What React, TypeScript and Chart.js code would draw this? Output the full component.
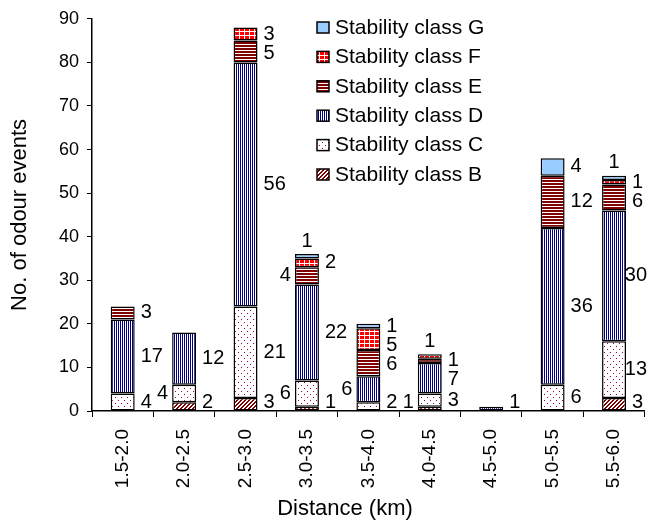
import React, { useEffect, useRef } from "react";
import { Chart, registerables } from "chart.js";

Chart.register(...registerables);

const FONT = '"Liberation Sans", Arial, Helvetica, sans-serif';

const categories = ["1.5-2.0", "2.0-2.5", "2.5-3.0", "3.0-3.5", "3.5-4.0", "4.0-4.5", "4.5-5.0", "5.0-5.5", "5.5-6.0"];
const classB = [0, 2, 3, 1, 0, 1, 0, 0, 3];
const classC = [4, 4, 21, 6, 2, 3, 0, 6, 13];
const classD = [17, 12, 56, 22, 6, 7, 1, 36, 30];
const classE = [3, 0, 5, 4, 6, 1, 0, 12, 6];
const classF = [0, 0, 3, 2, 5, 1, 0, 0, 1];
const classG = [0, 0, 0, 1, 1, 0, 0, 4, 1];
const seriesKeys = ["B", "C", "D", "E", "F", "G"];
const seriesNames = ["Stability class B", "Stability class C", "Stability class D", "Stability class E", "Stability class F", "Stability class G"];
const yTickValues = [0, 10, 20, 30, 40, 50, 60, 70, 80, 90];
const xTitle = "Distance (km)";
const yTitle = "No. of odour events";

// where a value label sits relative to its segment (default: right)
const labelSide: Record<string, string> = {
  "C:1": "left",
  "E:3": "left",
  "C:3": "left",
  "D:4": "left",
  "B:5": "left",
  "G:3": "top",
  "F:5": "top",
  "G:8": "top",
};

function tile(w: number, h: number, draw: (g: CanvasRenderingContext2D) => void) {
  const c = document.createElement("canvas");
  c.width = w;
  c.height = h;
  const g = c.getContext("2d")!;
  draw(g);
  return c;
}

function makeFills(ctx: CanvasRenderingContext2D): Record<string, any> {
  const red = "#800000";
  const B = tile(4, 4, (g) => {
    g.fillStyle = "#fff";
    g.fillRect(0, 0, 4, 4);
    g.fillStyle = red;
    for (let x = 0; x < 4; x++)
      for (let y = 0; y < 4; y++) if ((x + y) % 4 === 0 || (x + y) % 4 === 1) g.fillRect(x, y, 1, 1);
  });
  const C = tile(6, 6, (g) => {
    g.fillStyle = "#fff";
    g.fillRect(0, 0, 6, 6);
    g.fillStyle = "#99004d";
    g.fillRect(1, 1, 1, 1);
    g.fillRect(4, 4, 1, 1);
  });
  const D = tile(2, 1, (g) => {
    g.fillStyle = "#fff";
    g.fillRect(0, 0, 2, 1);
    g.fillStyle = "#000080";
    g.fillRect(0, 0, 1, 1);
  });
  const E = tile(1, 3, (g) => {
    g.fillStyle = red;
    g.fillRect(0, 0, 1, 3);
    g.fillStyle = "#fff";
    g.fillRect(0, 2, 1, 1);
  });
  const F = tile(5, 4, (g) => {
    g.fillStyle = "#ff0000";
    g.fillRect(0, 0, 5, 4);
    g.fillStyle = "#fff";
    g.fillRect(4, 0, 1, 4);
    g.fillRect(0, 3, 5, 1);
  });
  return {
    B: ctx.createPattern(B, "repeat"),
    C: ctx.createPattern(C, "repeat"),
    D: ctx.createPattern(D, "repeat"),
    E: ctx.createPattern(E, "repeat"),
    F: ctx.createPattern(F, "repeat"),
    G: "#99ccff",
  };
}

const valueLabels = {
  id: "valueLabels",
  afterDatasetsDraw(chart: any) {
    const ctx = chart.ctx as CanvasRenderingContext2D;
    const area = chart.chartArea;
    ctx.save();
    ctx.font = `20px ${FONT}`;
    ctx.fillStyle = "#000";
    ctx.textBaseline = "middle";
    const gap = 19;
    categories.forEach((_, i) => {
      const right: any[] = [];
      const left: any[] = [];
      chart.data.datasets.forEach((ds: any, di: number) => {
        const v = ds.data[i];
        if (!v) return;
        const el = chart.getDatasetMeta(di).data[i];
        if (!el) return;
        const p = el.getProps(["x", "y", "base", "width"], true);
        const top = Math.min(p.y, p.base);
        const bottom = Math.max(p.y, p.base);
        const side = labelSide[ds.key + ":" + i] || "right";
        const item = { text: String(v), y: (top + bottom) / 2, x: p.x, w: p.width, top };
        if (side === "top") {
          ctx.textAlign = "center";
          ctx.fillText(item.text, p.x, top - 13);
        } else if (side === "left") left.push(item);
        else right.push(item);
      });
      const place = (items: any[], isRight: boolean) => {
        items.sort((a, b) => a.y - b.y);
        for (let k = 1; k < items.length; k++) {
          if (items[k].y - items[k - 1].y < gap) items[k].y = items[k - 1].y + gap;
        }
        for (let k = items.length - 1; k >= 0; k--) {
          const lim = k === items.length - 1 ? area.bottom - 9 : items[k + 1].y - gap;
          if (items[k].y > lim) items[k].y = lim;
        }
        items.forEach((it) => {
          if (isRight) {
            const wText = ctx.measureText(it.text).width;
            let x = it.x + it.w / 2 + 6;
            if (x + wText > chart.width - 2) x = chart.width - 2 - wText;
            ctx.textAlign = "left";
            ctx.fillText(it.text, x, it.y);
          } else {
            ctx.textAlign = "right";
            ctx.fillText(it.text, it.x - it.w / 2 - 4, it.y);
          }
        });
      };
      place(right, true);
      place(left, false);
    });
    ctx.restore();
  },
};

const customLegend = {
  id: "customLegend",
  afterDraw(chart: any) {
    const ctx = chart.ctx as CanvasRenderingContext2D;
    ctx.save();
    ctx.font = `21px ${FONT}`;
    ctx.textBaseline = "middle";
    ctx.textAlign = "left";
    const dsList = chart.data.datasets.slice().reverse();
    dsList.forEach((ds: any, k: number) => {
      const cy = 27 + k * 29.4;
      ctx.fillStyle = ds.backgroundColor;
      ctx.fillRect(317, cy - 5, 12, 11);
      ctx.strokeStyle = "#000";
      ctx.lineWidth = 1.5;
      ctx.strokeRect(317, cy - 5, 12, 11);
      ctx.fillStyle = "#000";
      ctx.fillText(ds.label, 335, cy + 1);
    });
    ctx.restore();
  },
};

const xTitlePlugin = {
  id: "xTitlePlugin",
  afterDraw(chart: any) {
    const ctx = chart.ctx as CanvasRenderingContext2D;
    ctx.save();
    ctx.font = `22px ${FONT}`;
    ctx.fillStyle = "#000";
    ctx.textAlign = "center";
    ctx.textBaseline = "middle";
    ctx.fillText(xTitle, 345, 509);
    ctx.restore();
  },
};

export default function App() {
  const ref = useRef<HTMLCanvasElement | null>(null);
  useEffect(() => {
    const canvas = ref.current!;
    const ctx = canvas.getContext("2d")!;
    const fills = makeFills(ctx);
    const seriesValues = [classB, classC, classD, classE, classF, classG];
    const datasets = seriesKeys.map((key, idx) => ({
      key,
      label: seriesNames[idx],
      data: seriesValues[idx].map((v) => (v === 0 ? null : v)),
      backgroundColor: fills[key],
      borderColor: "#000",
      borderWidth: 1.5,
      borderSkipped: false,
      categoryPercentage: 1,
      barPercentage: 0.39,
    }));
    const chart = new Chart(canvas, {
      type: "bar",
      data: { labels: categories, datasets: datasets as any },
      options: {
        animation: false,
        responsive: true,
        maintainAspectRatio: false,
        layout: { padding: { top: 17, right: 3, left: 0, bottom: 0 } },
        plugins: { legend: { display: false }, tooltip: { enabled: false } },
        scales: {
          x: {
            stacked: true,
            grid: { display: true, drawOnChartArea: false, drawTicks: true, tickLength: 6, color: "#000", lineWidth: 1, offset: true },
            border: { color: "#000", width: 1.5 },
            ticks: { color: "#000", font: { family: FONT, size: 19 }, minRotation: 90, maxRotation: 90, padding: 12, autoSkip: false },
            afterFit: (s: any) => {
              s.height = 110;
            },
          },
          y: {
            stacked: true,
            min: 0,
            max: 90,
            afterBuildTicks: (s: any) => {
              s.ticks = yTickValues.map((v) => ({ value: v }));
            },
            grid: { display: true, drawOnChartArea: false, drawTicks: true, tickLength: 5, color: "#000", lineWidth: 1 },
            border: { color: "#000", width: 1.5 },
            ticks: { color: "#000", font: { family: FONT, size: 18 }, padding: 8 },
            title: { display: true, text: yTitle, color: "#000", font: { family: FONT, size: 22 }, padding: { top: 7, bottom: 0 } },
            afterFit: (s: any) => {
              s.width = 92;
            },
          },
        },
      },
      plugins: [valueLabels, customLegend, xTitlePlugin],
    });
    return () => chart.destroy();
  }, []);
  return (
    <div style={{ position: "absolute", left: 0, top: 0, width: 649, height: 521 }}>
      <canvas ref={ref} />
    </div>
  );
}
